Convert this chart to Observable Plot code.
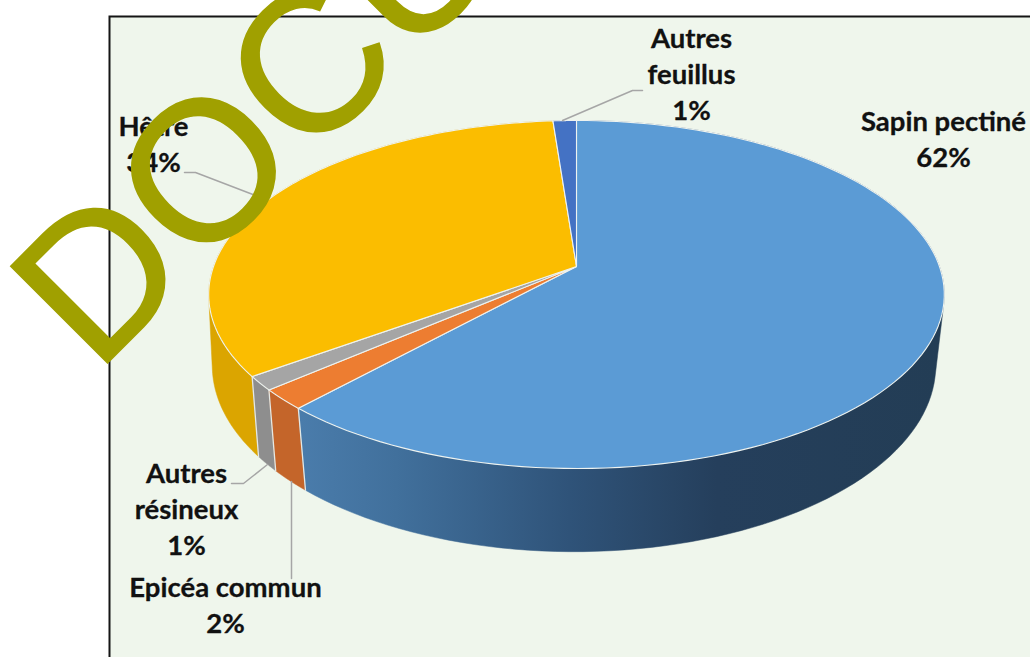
<!DOCTYPE html>
<html><head><meta charset="utf-8">
<style>html,body{margin:0;padding:0;background:#fff;overflow:hidden}svg{display:block;overflow:hidden}</style>
<script src="https://cdn.jsdelivr.net/npm/d3@7"></script>
<script src="https://cdn.jsdelivr.net/npm/@observablehq/plot@0.6"></script>
</head><body>
<script>
// Data: clockwise from 12 o'clock
const species = ["Sapin pectiné","Epicéa commun","Autres résineux","Hêtre","Autres feuillus"];
const shares = [61.8, 1.9, 1.3, 33.8, 1.2];
const percentLabels = ["62%","2%","1%","34%","1%"];
const labelLines = ["Sapin pectiné","Epicéa commun","Autres\nrésineux","Hêtre","Autres\nfeuillus"];

// Styling
const topColors = ["#5b9bd5","#ed7d31","#a5a5a5","#fbbd00","#4472c4"];
const wallColors = ["url(#sapinWall)","#c4652a","#8e8e8e","#dba500","#2f5597"];

// Layout of the perspective discs
const topDisc = {cx:576, cy:266, a:363, b:169.5, k:0.161, shift:0};
const lowDisc = {cx:573.5, cy:335, a:357, b:181.4, k:0.161, shift:-0.003};
const project = (d, frac) => {
  const t = (frac + d.shift) * 2 * Math.PI, u = Math.sin(t), v = -Math.cos(t), w = 1 - d.k * v;
  return {x: d.cx + d.a * u / w, y: d.cy + d.b * v / w};
};
const arc = (d, f0, f1) => d3.range(0, 121).map(i => project(d, f0 + (f1 - f0) * i / 120));
const total = d3.sum(shares);
const edges = d3.cumsum(shares).map(c => c / total);
const starts = [0, ...edges.slice(0, -1)];

const topPolys = species.map((_, i) => {
  const c = {x: topDisc.cx, y: topDisc.cy};
  return [c, ...arc(topDisc, starts[i], edges[i]), c];
});
// Each wall is the hull of its two rims: the chord side of the hull lies under the top face
const wallPolys = species.map((_, i) => {
  const pts = [...arc(topDisc, starts[i], edges[i]), ...arc(lowDisc, starts[i], edges[i])];
  const hull = d3.polygonHull(pts.map(p => [p.x, p.y]));
  return [...hull, hull[0]];
});
const seams = [0, 1, 2].map(i => [project(topDisc, edges[i]), project(lowDisc, edges[i])]);

// Layout of labels and leader lines (page positions, not data)
const labelPos = [
  {x:943, y:137}, {x:225, y:603}, {x:186, y:507}, {x:153, y:142}, {x:691, y:72}
];
const labelData = species.map((_, i) => ({...labelPos[i], text: labelLines[i] + "\n" + percentLabels[i]}));
const leaders = [
  [[184,172],[195,172],[255,195]],
  [[562,120],[632,90],[642,90]],
  [[231,483],[243,483],[267,464]],
  [[291,481],[291,578]]
];

const defs = () => {
  const ns = "http://www.w3.org/2000/svg";
  const g = document.createElementNS(ns, "g");
  g.innerHTML = `<defs><linearGradient id="sapinWall" gradientUnits="userSpaceOnUse" x1="300" y1="0" x2="940" y2="0">
    <stop offset="0" stop-color="#4a7cab"/><stop offset="0.15" stop-color="#41709c"/>
    <stop offset="0.42" stop-color="#2f5379"/><stop offset="0.65" stop-color="#253f5c"/>
    <stop offset="1" stop-color="#233d55"/></linearGradient></defs>`;
  return g;
};

const wallOrder = [4, 3, 2, 1, 0];
const chart = Plot.plot({
  width: 1030, height: 657, margin: 0,
  style: {background: "#fff"},
  x: {domain: [0, 1030], range: [0, 1030], axis: null},
  y: {domain: [0, 657], range: [0, 657], axis: null},
  marks: [
    defs,
    Plot.frame({fill: "#eff6ec", stroke: "#151515", strokeWidth: 2, insetLeft: 109, insetTop: 16, insetRight: -10, insetBottom: -10}),
    ...wallOrder.map(i => Plot.line(wallPolys[i], {x: d => d[0], y: d => d[1], fill: wallColors[i], stroke: wallColors[i], strokeWidth: 0.5})),
    ...seams.map(s => Plot.line(s, {x: "x", y: "y", stroke: "#e4e8e4", strokeWidth: 1.3})),
    ...topPolys.map((p, i) => Plot.line(p, {x: "x", y: "y", fill: topColors[i], stroke: "#eef3f0", strokeWidth: 1.1, strokeLinejoin: "round"})),
    ...leaders.map(l => Plot.line(l, {x: d => d[0], y: d => d[1], stroke: "#a6a6a6", strokeWidth: 1.5})),
    Plot.text(labelData, {x: "x", y: "y", text: "text", fontFamily: "Lato", fontWeight: 700, fontSize: 27.5, lineHeight: 1.31, fill: "#111", stroke: "#111", strokeWidth: 0.3, textAnchor: "middle"}),
    Plot.text(["DOCU"], {x: () => 95.5, y: () => 374, rotate: -45, textAnchor: "start", lineAnchor: "bottom", fontFamily: "Liberation Sans", fontSize: 199, fill: "#a0a000", stroke: "#a0a000", strokeWidth: 1.5, strokeLinejoin: "miter"})
  ]
});
document.body.appendChild(chart);
</script>
</body></html>
